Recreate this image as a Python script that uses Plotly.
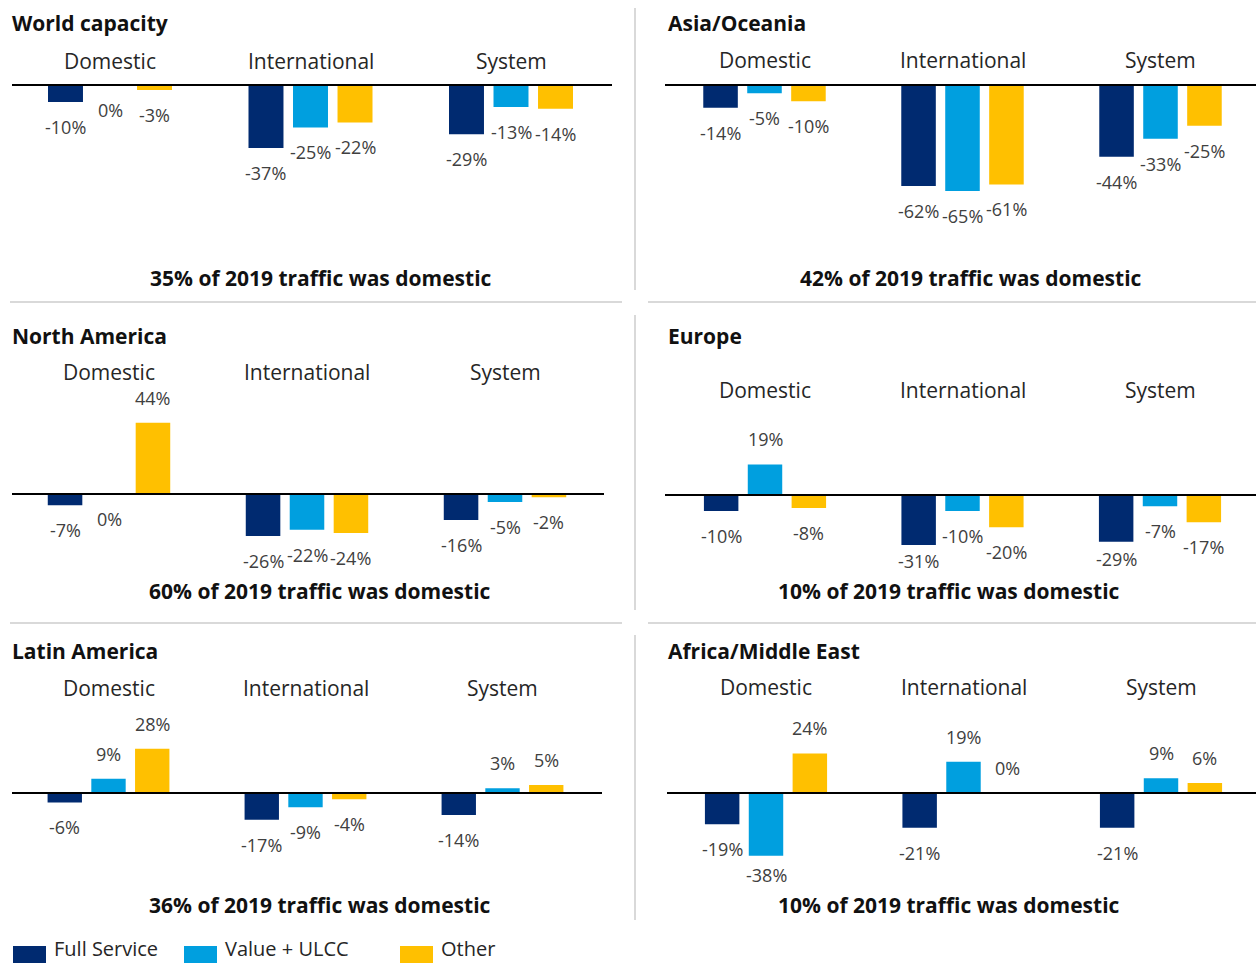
import plotly.graph_objects as go

W, H = 1256, 964
FONT = "Open Sans"

# ---- data -------------------------------------------------------------
categories = ["Domestic", "International", "System"]
series_names = ["Full Service", "Value + ULCC", "Other"]
series_colors = ["#002a70", "#009fdf", "#ffc000"]

regions = ["World capacity", "Asia/Oceania", "North America",
           "Europe", "Latin America", "Africa/Middle East"]

# capacity change vs 2019, % (Domestic, International, System)
world_full = [-10, -37, -29]
world_value = [0, -25, -13]
world_other = [-3, -22, -14]

asia_full = [-14, -62, -44]
asia_value = [-5, -65, -33]
asia_other = [-10, -61, -25]

na_full = [-7, -26, -16]
na_value = [0, -22, -5]
na_other = [44, -24, -2]

europe_full = [-10, -31, -29]
europe_value = [19, -10, -7]
europe_other = [-8, -20, -17]

latam_full = [-6, -17, -14]
latam_value = [9, -9, 3]
latam_other = [28, -4, 5]

africa_full = [-19, -21, -21]
africa_value = [-38, 19, 9]
africa_other = [24, 0, 6]

domestic_share_2019 = [35, 42, 60, 10, 36, 10]

region_values = [
    (world_full, world_value, world_other),
    (asia_full, asia_value, asia_other),
    (na_full, na_value, na_other),
    (europe_full, europe_value, europe_other),
    (latam_full, latam_value, latam_other),
    (africa_full, africa_value, africa_other),
]

# 0% labels that sit above the baseline (all others sit below)
zero_labels_above = [("Africa/Middle East", "Other", "International")]

# ---- label placement --------------------------------------------------
LABEL_GAP = 25  # px between bar end and label centre
# labels pulled closer to their bar so they clear the footnote
label_gap_overrides = {
    ("Europe", "Full Service", "International"): 16,
    ("Europe", "Full Service", "System"): 17,
    ("Africa/Middle East", "Value + ULCC", "Domestic"): 19,
}

# ---- panel geometry (pixels) -----------------------------------------
panels = [
    dict(title=(10, 23), glabel_y=61, c0=110, sp=200.5, xdom=(12, 612),
         zero=85, scale=1.70, ydom=(40, 298), sub=(321, 278)),
    dict(title=(666, 23), glabel_y=60, c0=764.5, sp=198, xdom=(665, 1256),
         zero=85, scale=1.63, ydom=(40, 298), sub=(971, 278)),
    dict(title=(10, 336), glabel_y=372, c0=109, sp=198, xdom=(12, 604),
         zero=494, scale=1.62, ydom=(320, 615), sub=(320, 591)),
    dict(title=(666, 336), glabel_y=390, c0=765, sp=197.5, xdom=(665, 1256),
         zero=495, scale=1.61, ydom=(320, 615), sub=(949, 591)),
    dict(title=(10, 651), glabel_y=688, c0=108.5, sp=197, xdom=(12, 602),
         zero=793, scale=1.58, ydom=(640, 935), sub=(320, 905)),
    dict(title=(666, 651), glabel_y=687, c0=766, sp=197.5, xdom=(667, 1256),
         zero=793, scale=1.65, ydom=(640, 935), sub=(949, 905)),
]

BARGAP = 0.334
BARGROUPGAP = 0.214
slot = (1 - BARGAP) / len(series_names)


def px_x(v):
    return v / W


def px_y(v):
    return 1 - v / H


fig = go.Figure()
layout = {}
annotations = []
shapes = []

for p, (region, vals, geo) in enumerate(zip(regions, region_values, panels)):
    n = p + 1
    sfx = "" if n == 1 else str(n)
    xref, yref = "x" + sfx, "y" + sfx

    left, right = geo["xdom"]
    top, bottom = geo["ydom"]
    z, s = geo["zero"], geo["scale"]
    layout["xaxis" + sfx] = dict(
        domain=[px_x(left), px_x(right)],
        range=[(left - geo["c0"]) / geo["sp"], (right - geo["c0"]) / geo["sp"]],
        visible=False, anchor=yref, fixedrange=True,
    )
    layout["yaxis" + sfx] = dict(
        domain=[px_y(bottom), px_y(top)],
        range=[-(bottom - z) / s, (z - top) / s],
        visible=False, anchor=xref, fixedrange=True,
    )

    for k, (name, color, v) in enumerate(zip(series_names, series_colors, vals)):
        fig.add_trace(go.Bar(
            x=list(range(len(categories))), y=v, name=name,
            marker=dict(color=color, line=dict(width=0)),
            xaxis=xref, yaxis=yref, showlegend=False,
            hovertemplate=region + "<br>%{customdata}<br>" + name + ": %{y}%<extra></extra>",
            customdata=categories,
        ))
        offset = (k - (len(series_names) - 1) / 2) * slot
        for i, val in enumerate(v):
            key = (region, name, categories[i])
            above = val > 0 or (val == 0 and key in zero_labels_above)
            gap = label_gap_overrides.get(key, LABEL_GAP)
            annotations.append(dict(
                x=i + offset, y=val, xref=xref, yref=yref,
                text=f"{val}%", showarrow=False,
                yshift=gap if above else -gap, yanchor="middle",
                font=dict(family=FONT, size=18, color="#404040"),
            ))

    # baseline
    shapes.append(dict(type="line", xref=xref + " domain", yref=yref,
                       x0=0, x1=1, y0=0, y1=0, layer="above",
                       line=dict(color="#000000", width=2)))

    # panel title
    tx, ty = geo["title"]
    annotations.append(dict(
        x=px_x(tx), y=px_y(ty), xref="paper", yref="paper",
        xanchor="left", yanchor="middle", showarrow=False,
        text=f"<b>{region}</b>",
        font=dict(family=FONT, size=21, color="#111111"),
    ))
    # group labels
    for i, cat in enumerate(categories):
        annotations.append(dict(
            x=i, y=px_y(geo["glabel_y"]), xref=xref, yref="paper",
            xanchor="center", yanchor="middle", showarrow=False, text=cat,
            font=dict(family=FONT, size=21, color="#262626"),
        ))
    # domestic share footnote
    sx, sy = geo["sub"]
    annotations.append(dict(
        x=px_x(sx), y=px_y(sy), xref="paper", yref="paper",
        xanchor="center", yanchor="middle", showarrow=False,
        text=f"<b>{domestic_share_2019[p]}% of 2019 traffic was domestic</b>",
        font=dict(family=FONT, size=21, color="#111111"),
    ))

# panel separators
SEP = dict(color="#d9d9d9", width=2)
for y0, y1 in [(8, 290), (315, 610), (635, 920)]:
    shapes.append(dict(type="line", xref="paper", yref="paper",
                       x0=px_x(635), x1=px_x(635), y0=px_y(y0), y1=px_y(y1), line=SEP))
for yy in [302, 623]:
    for x0, x1 in [(10, 622), (648, 1256)]:
        shapes.append(dict(type="line", xref="paper", yref="paper",
                           x0=px_x(x0), x1=px_x(x1), y0=px_y(yy), y1=px_y(yy), line=SEP))

# legend
legend_x = [13, 184, 400]
for name, color, lx in zip(series_names, series_colors, legend_x):
    shapes.append(dict(type="rect", xref="paper", yref="paper",
                       x0=px_x(lx), x1=px_x(lx + 33), y0=px_y(963), y1=px_y(946),
                       fillcolor=color, line=dict(width=0)))
    annotations.append(dict(
        x=px_x(lx + 39), y=0, xref="paper", yref="paper",
        xanchor="left", yanchor="bottom", showarrow=False, text=name,
        font=dict(family=FONT, size=20, color="#262626"),
    ))

fig.update_layout(
    width=W, height=H,
    margin=dict(l=0, r=0, t=0, b=0),
    paper_bgcolor="white", plot_bgcolor="white",
    barmode="group", bargap=BARGAP, bargroupgap=BARGROUPGAP,
    annotations=annotations, shapes=shapes,
    font=dict(family=FONT),
    **layout,
)

fig.write_html("out.html")
